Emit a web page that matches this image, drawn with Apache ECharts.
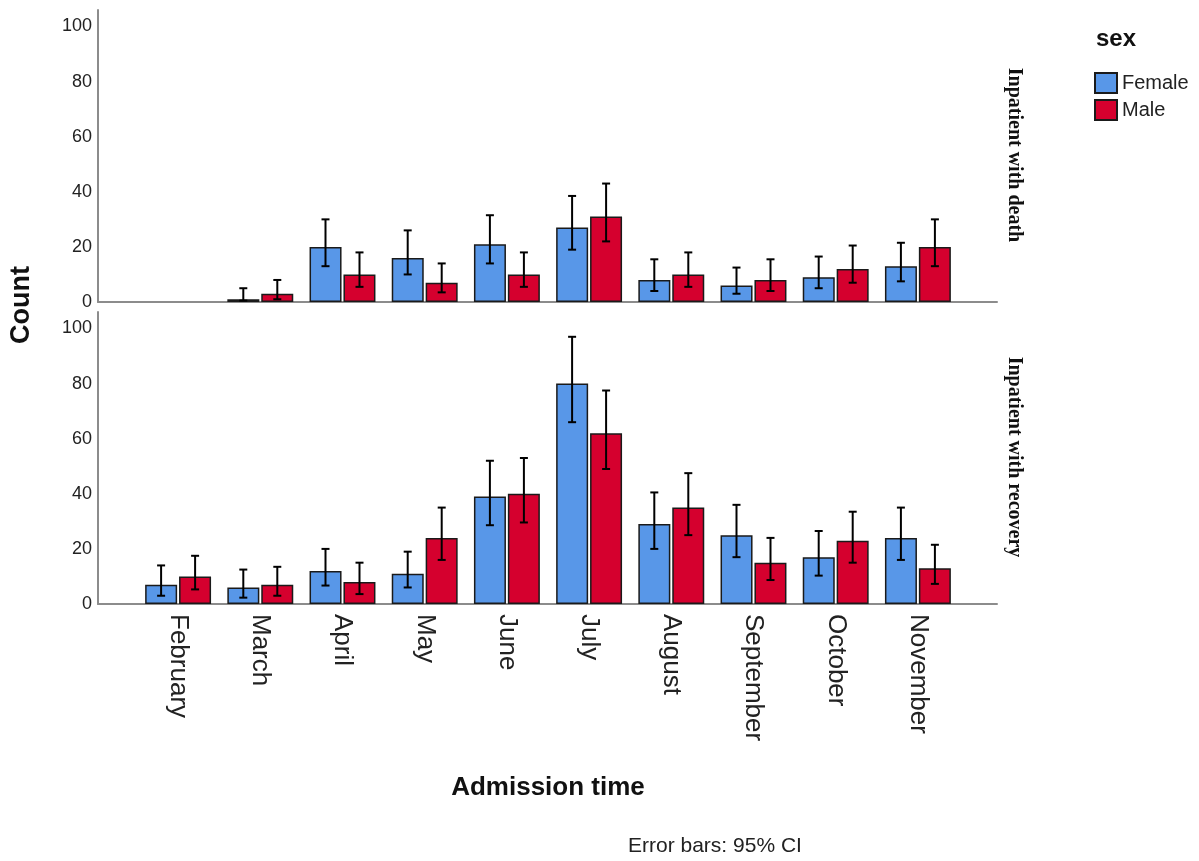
<!DOCTYPE html>
<html>
<head>
<meta charset="utf-8">
<title>Admission time by sex</title>
<script src="https://cdn.jsdelivr.net/npm/echarts@6/dist/echarts.min.js"></script>
<style>
  html, body { margin: 0; padding: 0; background: #fff; }
  #chart { width: 1199px; height: 861px; }
</style>
</head>
<body>
<div id="chart"></div>
<script>
// months on the x axis
const months = ["February", "March", "April", "May", "June", "July", "August", "September", "October", "November"];
const yTicks = [0, 20, 40, 60, 80, 100];

// top panel: inpatient with death
const deathFemale   = [null, 1, 20, 16, 21, 27, 8, 6, 9, 13];
const deathFemaleLo = [null, 0.5, 13, 10, 14, 19, 4, 3, 5, 7.5];
const deathFemaleHi = [null, 5, 30, 26, 31.5, 38.5, 15.5, 12.5, 16.5, 21.5];
const deathMale     = [null, 3, 10, 7, 10, 31, 10, 8, 12, 20];
const deathMaleLo   = [null, 1, 5.5, 3.5, 5.5, 22, 5.5, 4, 7, 13];
const deathMaleHi   = [null, 8, 18, 14, 18, 43, 18, 15.5, 20.5, 30];

// bottom panel: inpatient with recovery
const recovFemale   = [7, 6, 12, 11, 39, 80, 29, 25, 17, 24];
const recovFemaleLo = [3, 2.3, 6.7, 6, 28.6, 66, 20, 17, 10.3, 16];
const recovFemaleHi = [14, 12.5, 20, 19, 52, 97, 40.5, 36, 26.5, 35];
const recovMale     = [10, 7, 8, 24, 40, 62, 35, 15, 23, 13];
const recovMaleLo   = [5.3, 3, 3.6, 16, 29.6, 49, 25, 8.7, 15, 7.3];
const recovMaleHi   = [17.5, 13.5, 15, 35, 53, 77.5, 47.5, 24, 33.5, 21.5];

const blue = "#5897E8";
const red = "#D5002E";
const yMax = 106;

// build [index, lo, hi] rows for the error bar series
function ciRows(lo, hi) {
  const rows = [];
  lo.forEach((v, i) => {
    if (v != null) rows.push([i, v, hi[i]]);
  });
  return rows;
}

// draws a capped error bar, shifted to sit on its bar within the group
function errRender(shift) {
  return function (params, api) {
    const pLo = api.coord([api.value(0), api.value(1)]);
    const pHi = api.coord([api.value(0), api.value(2)]);
    const x = pLo[0] + shift;
    const style = { stroke: "#000", lineWidth: 2 };
    return {
      type: "group",
      children: [
        { type: "line", shape: { x1: x, y1: pLo[1], x2: x, y2: pHi[1] }, style },
        { type: "line", shape: { x1: x - 4, y1: pHi[1], x2: x + 4, y2: pHi[1] }, style },
        { type: "line", shape: { x1: x - 4, y1: pLo[1], x2: x + 4, y2: pLo[1] }, style },
      ],
    };
  };
}

const chart = echarts.init(document.getElementById("chart"));

// outer grids carry the visible axis lines, inner grids hold the bars
const outerX = {
  type: "value", min: 0, max: 1,
  axisLine: { show: true, onZero: false, lineStyle: { color: "#8c8c8c", width: 2 } },
  axisTick: { show: false }, axisLabel: { show: false }, splitLine: { show: false },
};
const outerY = {
  type: "value", min: 0, max: yMax, interval: 20,
  axisLine: { show: true, lineStyle: { color: "#8c8c8c", width: 2 } },
  axisTick: { show: false }, splitLine: { show: false },
  axisLabel: {
    showMaxLabel: false, margin: 6, fontSize: 18, color: "#222",
    fontFamily: "Liberation Sans, Arial, sans-serif",
    formatter: (v) => (yTicks.includes(v) ? String(v) : ""),
  },
};
const innerY = { type: "value", min: 0, max: yMax, show: false };

const barStyle = (c) => ({ color: c, borderColor: "#1a1a1a", borderWidth: 1.5 });

const textStyle = (text, font) => ({
  text, font, fill: "#111",
  align: "center", verticalAlign: "middle",
  textAlign: "center", textVerticalAlign: "middle",
});

const option = {
  animation: false,
  textStyle: { fontFamily: "Liberation Sans, Arial, sans-serif" },
  grid: [
    { left: 98, top: 10, width: 899, height: 292 },
    { left: 137, top: 10, width: 822, height: 292 },
    { left: 98, top: 312, width: 899, height: 292 },
    { left: 137, top: 312, width: 822, height: 292 },
  ],
  xAxis: [
    Object.assign({ gridIndex: 0 }, outerX),
    { gridIndex: 1, type: "category", data: months, show: false },
    Object.assign({ gridIndex: 2 }, outerX),
    {
      gridIndex: 3, type: "category", data: months,
      axisLine: { show: false }, axisTick: { show: false },
      axisLabel: { rotate: -90, margin: 10, fontSize: 26, color: "#222", interval: 0 },
    },
  ],
  yAxis: [
    Object.assign({ gridIndex: 0 }, outerY),
    Object.assign({ gridIndex: 1 }, innerY),
    Object.assign({ gridIndex: 2 }, outerY),
    Object.assign({ gridIndex: 3 }, innerY),
  ],
  title: [
    {
      text: "sex", left: 1091, top: 22,
      textStyle: { fontSize: 24, fontWeight: "bold", color: "#111" },
    },
    {
      text: "Error bars: 95% CI", left: 623, top: 831,
      textStyle: { fontSize: 21, fontWeight: "normal", color: "#222" },
    },
  ],
  legend: {
    data: ["Female", "Male"],
    orient: "vertical", left: 1089, top: 67,
    icon: "rect", itemWidth: 22, itemHeight: 20, itemGap: 5,
    textStyle: { fontSize: 20, color: "#222" },
    selectedMode: false,
  },
  graphic: [
    {
      type: "text", x: 22, y: 305, rotation: Math.PI / 2,
      style: textStyle("Count", "bold 27px Liberation Sans, Arial, sans-serif"),
    },
    {
      type: "text", x: 548, y: 788,
      style: textStyle("Admission time", "bold 26px Liberation Sans, Arial, sans-serif"),
    },
    {
      type: "text", x: 1014, y: 155, rotation: -Math.PI / 2,
      style: textStyle("Inpatient with death", "bold 20px Liberation Serif, Times New Roman, serif"),
    },
    {
      type: "text", x: 1014, y: 457, rotation: -Math.PI / 2,
      style: textStyle("Inpatient with recovery", "bold 20px Liberation Serif, Times New Roman, serif"),
    },
  ],
  series: [
    { name: "Female", type: "bar", xAxisIndex: 1, yAxisIndex: 1, data: deathFemale, barWidth: 32, barGap: "6%", itemStyle: barStyle(blue) },
    { name: "Male", type: "bar", xAxisIndex: 1, yAxisIndex: 1, data: deathMale, barWidth: 32, barGap: "6%", itemStyle: barStyle(red) },
    { name: "Female", type: "bar", xAxisIndex: 3, yAxisIndex: 3, data: recovFemale, barWidth: 32, barGap: "6%", itemStyle: barStyle(blue) },
    { name: "Male", type: "bar", xAxisIndex: 3, yAxisIndex: 3, data: recovMale, barWidth: 32, barGap: "6%", itemStyle: barStyle(red) },
    { name: "ci-death-f", type: "custom", xAxisIndex: 1, yAxisIndex: 1, z: 5, renderItem: errRender(-17), data: ciRows(deathFemaleLo, deathFemaleHi) },
    { name: "ci-death-m", type: "custom", xAxisIndex: 1, yAxisIndex: 1, z: 5, renderItem: errRender(17), data: ciRows(deathMaleLo, deathMaleHi) },
    { name: "ci-recov-f", type: "custom", xAxisIndex: 3, yAxisIndex: 3, z: 5, renderItem: errRender(-17), data: ciRows(recovFemaleLo, recovFemaleHi) },
    { name: "ci-recov-m", type: "custom", xAxisIndex: 3, yAxisIndex: 3, z: 5, renderItem: errRender(17), data: ciRows(recovMaleLo, recovMaleHi) },
  ],
};

chart.setOption(option);
</script>
</body>
</html>
